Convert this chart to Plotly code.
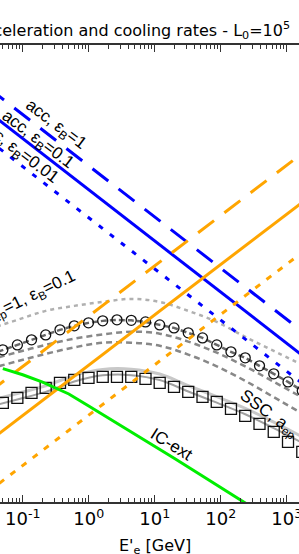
import plotly.graph_objects as go

# ---- data (E'_e in GeV, rates in arbitrary units; y axis is off-frame) ----
E_line = [0.03, 3000]
acc_eB1 = [1436, 0.01306]
acc_eB01 = [484, 0.00441]
acc_eB001 = [136.1, 0.001239]
syn_eB1 = [1.413e-3, 127.6]
syn_eB01 = [1.531e-4, 13.87]
syn_eB001 = [1.589e-5, 1.436]

E_icext = [0.05, 0.1, 0.2, 0.5, 1, 2, 5, 10, 20, 50, 100, 200, 500, 1000]
ic_ext = [4.23e-3, 3.21e-3, 2.30e-3, 1.34e-3, 7.76e-4, 4.51e-4, 2.21e-4,
          1.28e-4, 7.21e-5, 3.40e-5, 1.92e-5, 1.08e-5, 5.14e-6, 2.93e-6]

E_pts = [0.031, 0.050, 0.083, 0.136, 0.223, 0.367, 0.604, 0.993, 1.63, 2.68,
         4.41, 7.25, 11.9, 19.6, 32.2, 53.0, 87.1, 143, 235, 387, 636, 1046, 1720]
ssc_circ = [7.91e-3, 9.91e-3, 0.01242, 0.01560, 0.01954, 0.02455, 0.02944,
            0.03373, 0.03690, 0.03864, 0.03776, 0.03524, 0.03076, 0.02685,
            0.02143, 0.01706, 0.01242, 9.06e-3, 6.90e-3, 4.80e-3, 3.34e-3,
            2.32e-3, 1.545e-3]
ssc_sq = [7.15e-4, 8.97e-4, 1.125e-3, 1.413e-3, 1.770e-3, 2.218e-3, 2.547e-3,
          2.786e-3, 2.917e-3, 2.917e-3, 2.917e-3, 2.661e-3, 2.218e-3, 1.853e-3,
          1.476e-3, 1.178e-3, 9.38e-4, 6.84e-4, 4.98e-4, 3.46e-4, 2.41e-4,
          1.53e-4, 9.73e-5]

E_curve = [0.031, 0.083, 0.223, 0.604, 1.63, 4.41, 11.9, 32.2, 87.1, 235, 636, 1720]
gray_a = [0.02566, 0.03862, 0.05807, 0.07281, 0.08730, 0.1000, 0.08730,
          0.05807, 0.03525, 0.01786, 0.00946, 0.00502]
gray_c = [0.00630, 0.00889, 0.01242, 0.01647, 0.01991, 0.02261, 0.02065,
          0.01443, 0.00873, 0.00469, 0.00233, 0.00114]
gray_d = [0.00419, 0.00591, 0.00826, 0.01109, 0.01367, 0.01374, 0.01194,
          0.00801, 0.00469, 0.00243, 0.00116, 0.000550]
gray_e = [9.82e-4, 1.374e-3, 1.938e-3, 3.105e-3, 4.09e-3, 4.13e-3, 3.31e-3,
          1.965e-3, 1.188e-3, 7.02e-4, 3.74e-4, 1.92e-4]
gray_f = [7.48e-4, 1.047e-3, 1.477e-3, 2.366e-3, 3.12e-3, 3.15e-3, 2.52e-3,
          1.497e-3, 9.05e-4, 5.35e-4, 2.85e-4, 1.463e-4]

major_vals = [0.1, 1, 10, 100, 1000]
major_text = ["10<sup>-1</sup>", "10<sup>0</sup>", "10<sup>1</sup>",
              "10<sup>2</sup>", "10<sup>3</sup>"]
minor_vals = [m * 10.0 ** k for k in range(-2, 4) for m in range(2, 10)]

fig = go.Figure()

def add(x, y, color, width, dash="solid", shape="linear"):
    fig.add_trace(go.Scatter(x=x, y=y, mode="lines", line_shape=shape,
                             line=dict(color=color, width=width, dash=dash),
                             hoverinfo="skip"))

# gray model curves
add(E_curve, gray_e, "#c8c8c8", 3, shape="spline")
add(E_curve, gray_f, "#a0a0a0", 2, shape="spline")
add(E_curve, gray_a, "#b0b0b0", 2.5, "4px,4px", "spline")
add(E_curve, gray_c, "#888888", 2.5, "6px,4px", "spline")
add(E_curve, gray_d, "#888888", 2.5, "6px,4px", "spline")

# SSC points
fig.add_trace(go.Scatter(x=E_pts, y=ssc_sq, mode="markers",
                         marker=dict(symbol="square-open", size=11, color="#111",
                                     line=dict(width=1.3)), hoverinfo="skip"))
fig.add_trace(go.Scatter(x=E_pts, y=ssc_circ, mode="lines+markers",
                         line=dict(color="#666666", width=2.5, dash="6px,3px"),
                         marker=dict(symbol="circle-open", size=10, color="#111",
                                     line=dict(width=1.3)), hoverinfo="skip"))

# acceleration (blue) and synchrotron (orange) rates
add(E_line, acc_eB1, "#0000ff", 3, "20px,13px")
add(E_line, acc_eB01, "#0000ff", 3)
add(E_line, acc_eB001, "#0000ff", 3, "5px,9px")
add(E_line, syn_eB1, "#ffa500", 3, "20px,13px")
add(E_line, syn_eB01, "#ffa500", 3)
add(E_line, syn_eB001, "#ffa500", 3, "6px,8px")
# external IC
add(E_icext, ic_ext, "#00ee00", 3)

W, H, T, B = 299, 554, 45, 52
PH = H - T - B

def px(x):
    return x / W

def py(y):
    return 1 - (y - T) / PH

lab_font = dict(family="Liberation Sans", size=17, color="black")
annos = [
    dict(text="acc, ε<sub>B</sub>=1", x=px(55), y=py(125), textangle=37),
    dict(text="acc, ε<sub>B</sub>=0.1", x=px(37), y=py(140), textangle=37),
    dict(text="acc, ε<sub>B</sub>=0.01", x=px(18), y=py(152), textangle=37),
    dict(text="SSC, a<sub>ep</sub>=1, ε<sub>B</sub>=0.1", x=px(9), y=py(308), textangle=-26),
    dict(text="SSC, a<sub>ep</sub>", x=px(268), y=py(414), textangle=36),
    dict(text="IC-ext", x=px(172), y=py(444), textangle=32),
]
for a in annos:
    fig.add_annotation(xref="paper", yref="paper", showarrow=False,
                       xanchor="center", yanchor="middle", font=lab_font, **a)

# title (cropped at the left edge in the reference) and x label
fig.add_annotation(xref="paper", yref="paper", x=px(-28.5), y=py(30),
                   xanchor="left", yanchor="middle", showarrow=False,
                   text="Acceleration and cooling rates - L<sub>0</sub>=10<sup>5</sup>",
                   font=dict(family="DejaVu Sans", size=16, color="black"))
fig.add_annotation(xref="paper", yref="paper", x=px(155), y=py(546),
                   xanchor="center", yanchor="middle", showarrow=False,
                   text="E'<sub>e</sub> [GeV]",
                   font=dict(family="DejaVu Sans", size=16, color="black"))

fig.update_layout(
    width=W, height=H, showlegend=False,
    margin=dict(l=0, r=0, t=T, b=B, pad=0),
    paper_bgcolor="white", plot_bgcolor="white",
    xaxis=dict(type="log", range=[-1.344, 3.186], tickmode="array",
               tickvals=major_vals, ticktext=major_text,
               ticklabeloverflow="allow",
               ticks="inside", ticklen=7, tickwidth=1.2, tickcolor="#333",
               showline=True, linecolor="#333", linewidth=1.5, mirror="ticks",
               showgrid=False, zeroline=False, automargin=False,
               tickfont=dict(family="DejaVu Sans", size=18, color="black"),
               minor=dict(tickmode="array", tickvals=minor_vals, ticks="inside",
                          ticklen=4, tickwidth=1, tickcolor="#333", showgrid=False)),
    yaxis=dict(type="log", range=[-5, 4], visible=False, showgrid=False,
               zeroline=False, automargin=False),
)

fig.write_html("out.html", config={"displayModeBar": False},
               post_script="document.body.style.margin='0';"
                           "document.body.style.overflow='hidden';")
